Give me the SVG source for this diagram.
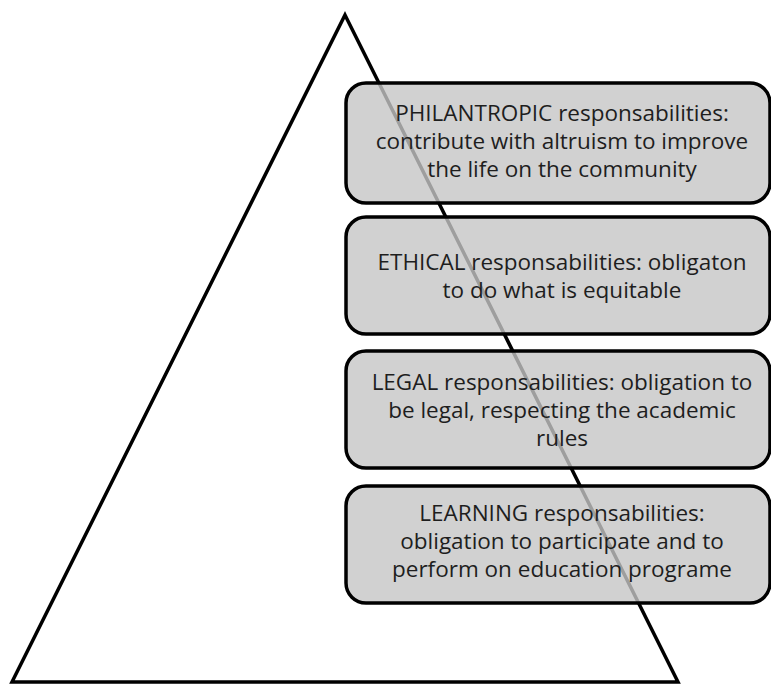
<svg xmlns="http://www.w3.org/2000/svg" width="771" height="684" viewBox="0 0 771 684">
<style>
.tri{fill:none;stroke:#000;stroke-width:3.5;stroke-linejoin:miter}
.box{fill:#c6c6c6;fill-opacity:0.8;stroke:#000;stroke-width:3.5}
.t{font-family:"Open Sans",Lato,"Liberation Sans",sans-serif;font-size:22.5px;fill:#1e1e1e;text-anchor:middle}
</style>
<rect width="771" height="684" fill="#fff"/>
<g id="pyramid">
<path class="tri" d="M345,15 L678,682 L12,682 Z"/>
</g>
<g id="philanthropic">
<rect class="box" x="346" y="83" width="424" height="120" rx="20"/>
<text class="t" x="562" y="121">PHILANTROPIC responsabilities:</text>
<text class="t" x="562" y="149">contribute with altruism to improve</text>
<text class="t" x="562" y="177">the life on the community</text>
</g>
<g id="ethical">
<rect class="box" x="346" y="217" width="424" height="117" rx="20"/>
<text class="t" x="562" y="270">ETHICAL responsabilities: obligaton</text>
<text class="t" x="562" y="298">to do what is equitable</text>
</g>
<g id="legal">
<rect class="box" x="346" y="351" width="424" height="117" rx="20"/>
<text class="t" x="562" y="390">LEGAL responsabilities: obligation to</text>
<text class="t" x="562" y="418">be legal, respecting the academic</text>
<text class="t" x="562" y="446">rules</text>
</g>
<g id="learning">
<rect class="box" x="346" y="486" width="424" height="117" rx="20"/>
<text class="t" x="562" y="521">LEARNING responsabilities:</text>
<text class="t" x="562" y="549">obligation to participate and to</text>
<text class="t" x="562" y="577">perform on education programe</text>
</g>
</svg>
